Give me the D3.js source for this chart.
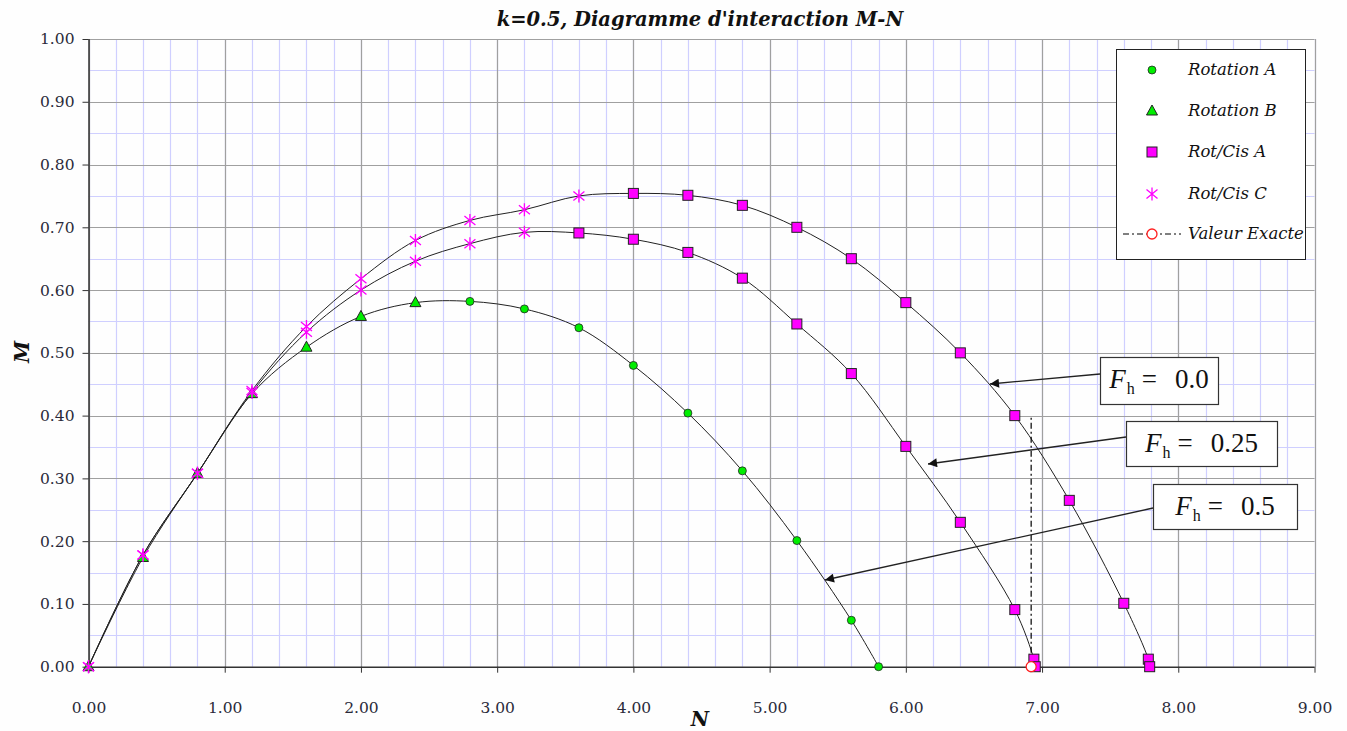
<!DOCTYPE html>
<html><head><meta charset="utf-8">
<script src="https://cdn.jsdelivr.net/npm/d3@7"></script>
<style>body{margin:0;background:#fff}svg{display:block}</style>
</head><body>
<svg id="c" width="1347" height="731"></svg>
<script>
// ---------- data ----------
const xTicks = [0,1,2,3,4,5,6,7,8,9];
const yTicks = [0,0.1,0.2,0.3,0.4,0.5,0.6,0.7,0.8,0.9,1.0];
const legendLabels = ["Rotation A","Rotation B","Rot/Cis A","Rot/Cis C","Valeur Exacte"];
const fhLabels = ["0.0","0.25","0.5"];

// Fh = 0.5
const fh05_rotB_N = [0,0.4,0.8,1.2,1.6,2.0,2.4];
const fh05_rotB_M = [0,0.174,0.308,0.435,0.509,0.558,0.580];
const fh05_rotA_N = [2.8,3.2,3.6,4.0,4.4,4.8,5.2,5.6,5.8];
const fh05_rotA_M = [0.582,0.570,0.540,0.480,0.404,0.312,0.201,0.074,0.0];
// Fh = 0.25
const fh025_cisC_N = [0,0.4,0.8,1.2,1.6,2.0,2.4,2.8,3.2];
const fh025_cisC_M = [0,0.178,0.308,0.437,0.533,0.600,0.646,0.674,0.692];
const fh025_cisA_N = [3.6,4.0,4.4,4.8,5.2,5.6,6.0,6.4,6.8,6.94,6.95];
const fh025_cisA_M = [0.691,0.681,0.660,0.619,0.546,0.467,0.351,0.230,0.091,0.012,0.0];
// Fh = 0.0
const fh0_cisC_N = [0,0.4,0.8,1.2,1.6,2.0,2.4,2.8,3.2,3.6];
const fh0_cisC_M = [0,0.178,0.308,0.440,0.542,0.618,0.679,0.711,0.728,0.750];
const fh0_cisA_N = [4.0,4.4,4.8,5.2,5.6,6.0,6.4,6.8,7.2,7.6,7.78,7.79];
const fh0_cisA_M = [0.754,0.751,0.735,0.700,0.650,0.580,0.500,0.400,0.265,0.101,0.012,0.0];
// exact value
const exact_N = [6.92,6.92];
const exact_M = [0.0,0.40];

// ---------- layout ----------
const svg = d3.select("#c");
const X0=88.5, X1=1314.5, Y0=666.7, Y1=39;
const x = d3.scaleLinear().domain([0,9]).range([X0,X1]);
const y = d3.scaleLinear().domain([0,1]).range([Y0,Y1]);
const serif = "'DejaVu Serif', serif";

svg.append("rect").attr("width",1347).attr("height",731).attr("fill","#fefefe");

// minor grid
const g = svg.append("g");
g.selectAll(".vx").data(d3.range(0,9.001,0.2)).join("line")
 .attr("x1",d=>Math.round(x(d))+0.5).attr("x2",d=>Math.round(x(d))+0.5).attr("y1",Y1).attr("y2",Y0)
 .attr("stroke","#cfcfff").attr("stroke-width",1.2);
g.selectAll(".hy").data(d3.range(0,1.0001,0.05)).join("line")
 .attr("y1",d=>Math.round(y(d))+0.5).attr("y2",d=>Math.round(y(d))+0.5).attr("x1",X0).attr("x2",X1)
 .attr("stroke","#cfcfff").attr("stroke-width",1.2);
// major grid
g.selectAll(".mx").data(xTicks).join("line")
 .attr("x1",d=>Math.round(x(d))+0.5).attr("x2",d=>Math.round(x(d))+0.5).attr("y1",Y1).attr("y2",Y0)
 .attr("stroke","#a0a0a0").attr("stroke-width",1.2);
g.selectAll(".my").data(yTicks).join("line")
 .attr("y1",d=>Math.round(y(d))+0.5).attr("y2",d=>Math.round(y(d))+0.5).attr("x1",X0).attr("x2",X1)
 .attr("stroke","#a0a0a0").attr("stroke-width",1.2);

// axes
const xAxis = d3.axisBottom(x).tickValues(xTicks).tickFormat(d3.format(".2f")).tickSize(6).tickPadding(29);
const yAxis = d3.axisLeft(y).tickValues(yTicks).tickFormat(d3.format(".2f")).tickSize(6).tickPadding(8);
const gx = svg.append("g").attr("transform",`translate(0,${Y0})`).call(xAxis);
const gy = svg.append("g").attr("transform",`translate(${X0},0)`).call(yAxis);
[gx,gy].forEach(a=>{
  a.select(".domain").attr("stroke","#333").attr("stroke-width",1.5);
  a.selectAll(".tick line").attr("stroke","#333");
  a.selectAll(".tick text").attr("font-family",serif).attr("font-size",15.5).attr("fill","#2a2a3a");
});
gy.select(".domain").attr("d",`M0.5,${Y0}V${Y1}`);
gx.select(".domain").attr("d",`M${X0},0.5H${X1}`);

// lines
const line = d3.line().x(d=>x(d[0])).y(d=>y(d[1])).curve(d3.curveCatmullRom.alpha(0.5));
const zip=(a,b)=>a.map((v,i)=>[v,b[i]]);
const curves = [
  zip(fh05_rotB_N.concat(fh05_rotA_N), fh05_rotB_M.concat(fh05_rotA_M)),
  zip(fh025_cisC_N.concat(fh025_cisA_N), fh025_cisC_M.concat(fh025_cisA_M)),
  zip(fh0_cisC_N.concat(fh0_cisA_N), fh0_cisC_M.concat(fh0_cisA_M))
];
svg.append("g").selectAll("path").data(curves).join("path")
 .attr("d",line).attr("fill","none").attr("stroke","#222").attr("stroke-width",1);

// exact value line
svg.append("path").attr("d",d3.line().x(d=>x(d[0])).y(d=>y(d[1]))(zip(exact_N,exact_M)))
 .attr("stroke","#000").attr("stroke-width",1.2).attr("stroke-dasharray","6,3,2,3").attr("fill","none");

// markers
const GREEN="#00ee00", MAG="#ff00ff";
function circle(sel){sel.append("circle").attr("r",4).attr("fill",GREEN).attr("stroke","#222").attr("stroke-width",0.8);}
function tri(sel){sel.append("path").attr("d","M0,-6L5.5,4L-5.5,4Z").attr("fill",GREEN).attr("stroke","#222").attr("stroke-width",1);}
function square(sel){sel.append("rect").attr("x",-5).attr("y",-5).attr("width",10).attr("height",10).attr("fill",MAG).attr("stroke","#222").attr("stroke-width",1);}
function star(sel){sel.append("path").attr("d","M0,-6.5V6.5M-5.5,-4.5L5.5,4.5M-5.5,4.5L5.5,-4.5").attr("stroke",MAG).attr("stroke-width",1.3).attr("fill","none");}
function exactMk(sel){sel.append("circle").attr("r",5).attr("fill","#fff").attr("stroke","#ff2020").attr("stroke-width",1.3);}

function plot(Ns,Ms,fn){
  svg.append("g").selectAll("g").data(zip(Ns,Ms)).join("g")
   .attr("transform",d=>`translate(${x(d[0])},${y(d[1])})`).each(function(){fn(d3.select(this));});
}
plot(fh05_rotA_N,fh05_rotA_M,circle);
plot(fh05_rotB_N,fh05_rotB_M,tri);
plot(fh025_cisA_N,fh025_cisA_M,square);
plot(fh0_cisA_N,fh0_cisA_M,square);
plot(fh025_cisC_N,fh025_cisC_M,star);
plot(fh0_cisC_N,fh0_cisC_M,star);
plot([exact_N[0]],[exact_M[0]],exactMk);

// title & axis labels
svg.append("text").attr("x",700).attr("y",26).attr("text-anchor","middle")
 .attr("font-family",serif).attr("font-size",19.5).attr("font-weight","bold").attr("font-style","italic")
 .attr("fill","#111").text("k=0.5, Diagramme d'interaction M-N");
svg.append("text").attr("x",700).attr("y",726).attr("text-anchor","middle")
 .attr("font-family",serif).attr("font-size",20).attr("font-weight","bold").attr("font-style","italic")
 .attr("fill","#111").text("N");
svg.append("text").attr("transform","translate(29,352) rotate(-90)").attr("text-anchor","middle")
 .attr("font-family",serif).attr("font-size",20).attr("font-weight","bold").attr("font-style","italic")
 .attr("fill","#111").text("M");

// legend
const lg = svg.append("g");
lg.append("rect").attr("x",1116.5).attr("y",49.5).attr("width",189).attr("height",210)
 .attr("fill","#fff").attr("stroke","#222").attr("stroke-width",1);
const ly=[70,111,152,194,234];
const mk=[circle,tri,square,star,exactMk];
legendLabels.forEach((t,i)=>{
  if(i===4){
    lg.append("line").attr("x1",1123).attr("x2",1181).attr("y1",ly[i]).attr("y2",ly[i])
      .attr("stroke","#000").attr("stroke-dasharray","6,3,2,3");
  }
  const m=lg.append("g").attr("transform",`translate(1152,${ly[i]})`);
  mk[i](m);
  lg.append("text").attr("x",1188).attr("y",ly[i]+5).attr("font-family",serif).attr("font-style","italic")
    .attr("font-size",16.5).attr("fill","#111").text(t);
});

// annotations
const boxes=[
  {x:1100,y:357,w:118,h:47,lx:1100,ly:374,tx:990,ty:384},
  {x:1126,y:421,w:151,h:45,lx:1126,ly:437,tx:928,ty:464},
  {x:1153,y:484,w:144,h:45,lx:1153,ly:508,tx:825,ty:580}
];
svg.append("defs").append("marker").attr("id","ah").attr("viewBox","0 0 10 10").attr("refX",10).attr("refY",5)
 .attr("markerWidth",12).attr("markerHeight",9).attr("markerUnits","userSpaceOnUse").attr("orient","auto")
 .append("path").attr("d","M0,0L10,5L0,10Z").attr("fill","#111");
boxes.forEach((b,i)=>{
  svg.append("line").attr("x1",b.lx).attr("y1",b.ly).attr("x2",b.tx).attr("y2",b.ty)
   .attr("stroke","#222").attr("stroke-width",1.3).attr("marker-end","url(#ah)");
  svg.append("rect").attr("x",b.x+0.5).attr("y",b.y+0.5).attr("width",b.w).attr("height",b.h)
   .attr("fill","#fff").attr("stroke","#333").attr("stroke-width",1.2);
  const t=svg.append("text").attr("x",b.x+b.w/2).attr("y",b.y+31).attr("text-anchor","middle")
   .attr("font-family","'Liberation Serif', serif").attr("font-size",27).attr("fill","#111");
  t.append("tspan").attr("font-style","italic").text("F");
  t.append("tspan").attr("font-size",16).attr("dy",6).attr("dx",1).text("h");
  t.append("tspan").attr("dy",-6).attr("dx",7).text("=");
  t.append("tspan").attr("dx",18).text(fhLabels[i]);
});
</script>
</body></html>
